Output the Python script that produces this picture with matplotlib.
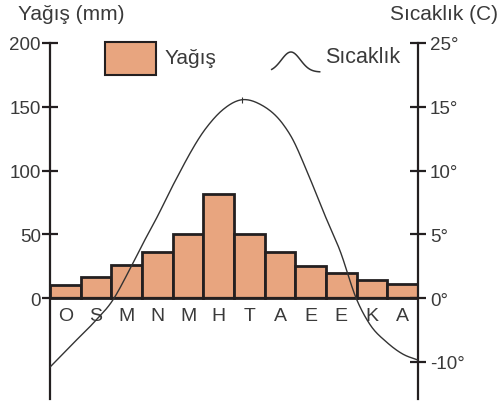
import numpy as np
import matplotlib
matplotlib.use('Agg')
import matplotlib.pyplot as plt
from matplotlib.patches import Rectangle
from matplotlib.lines import Line2D

plt.rcParams['font.family'] = ['Liberation Sans', 'DejaVu Sans']

months = ['O', 'S', 'M', 'N', 'M', 'H', 'T', 'A', 'E', 'E', 'K', 'A']
rain = [10, 17, 26, 36, 50, 82, 50, 36, 25, 20, 14, 11]

# temperature (x in month widths from the left axis)
temp_x = [0, 0.73, 1.47, 2.02, 2.61, 3.10, 3.48, 4.02, 5.11, 5.65, 6.25,
          6.85, 7.61, 7.88, 8.37, 8.91, 9.46, 10.0, 10.43, 10.98, 11.52, 12.0]
temp = [-10.8, -7.2, -3.6, -0.5, 2.3, 4.6, 6.3, 8.9, 13.4, 14.8, 16.1,
        15.4, 13.6, 12.6, 10.0, 6.8, 3.7, -0.2, -4.1, -6.9, -8.8, -9.7]
peak_i = 10

rain_ticks = [0, 50, 100, 150, 200]
temp_ticks = [-10, 0, 5, 10, 15, 25]
temp_labels = ['-10°', '0°', '5°', '10°', '15°', '25°']

ink = '#231f20'
txt = '#3a3a3a'
bar_col = '#e8a57f'


# the printed temperature scale is uneven, so map it piecewise
def fwd(t):
    t = np.asarray(t, dtype=float)
    return np.where(t < 0, t / 2, np.where(t > 15, 15 + (t - 15) / 2, t))


def inv(y):
    y = np.asarray(y, dtype=float)
    return np.where(y < 0, 2 * y, np.where(y > 15, 15 + 2 * (y - 15), y))


def smooth(xs, ys, n=20):
    # catmull-rom style hermite curve through the read points, for drawing only
    xs = np.asarray(xs, float)
    ys = np.asarray(ys, float)
    m = np.gradient(ys, xs)
    ox, oy = [], []
    for i in range(len(xs) - 1):
        h = xs[i + 1] - xs[i]
        s = np.linspace(0, 1, n, endpoint=False)
        h00 = 2 * s**3 - 3 * s**2 + 1
        h10 = s**3 - 2 * s**2 + s
        h01 = -2 * s**3 + 3 * s**2
        h11 = s**3 - s**2
        ox.extend(xs[i] + s * h)
        oy.extend(h00 * ys[i] + h10 * h * m[i] + h01 * ys[i + 1] + h11 * h * m[i + 1])
    ox.append(xs[-1])
    oy.append(ys[-1])
    return np.array(ox), np.array(oy)


fig = plt.figure(figsize=(5.01, 4.06), dpi=100)
ax = fig.add_axes([50 / 501, 1 - 400 / 406, 368 / 501, 356 / 406])

x = np.arange(len(months)) + 0.5
ax.bar(x, rain, width=1, color=bar_col, edgecolor=ink, linewidth=2.0, zorder=2)
ax.axhline(0, color=ink, lw=1.6, zorder=3)
ax.set_xlim(0, len(months))
ax.set_ylim(-79, 200)

for xi, m in zip(x, months):
    ax.text(xi, -13.5, m, ha='center', va='center', fontsize=14, color=txt)

ax.set_xticks([])
ax.set_yticks(rain_ticks)
ax.tick_params(axis='y', direction='inout', length=11, width=1.6, color=ink,
               labelsize=13.5, labelcolor=txt, pad=1)
for s in ['top', 'bottom', 'right']:
    ax.spines[s].set_visible(False)
ax.spines['left'].set_linewidth(1.6)
ax.spines['left'].set_color(ink)

ax2 = ax.twinx()
ax2.set_yscale('function', functions=(fwd, inv))
ax2.set_ylim(-15.8, 25)
sx, sy = smooth(temp_x, fwd(temp))
ax2.plot(sx, inv(sy), color='#333333', lw=1.0, zorder=4)
ax2.plot([temp_x[peak_i]], [temp[peak_i]], marker='|', ms=5, color='#333333', mew=0.8)
ax2.set_yticks(temp_ticks)
ax2.set_yticklabels(temp_labels)
ax2.yaxis.set_minor_locator(matplotlib.ticker.NullLocator())
ax2.tick_params(axis='y', direction='inout', length=11, width=1.6, color=ink,
                labelsize=13.5, labelcolor=txt, pad=3)
for s in ['top', 'bottom', 'left']:
    ax2.spines[s].set_visible(False)
ax2.spines['right'].set_linewidth(1.6)
ax2.spines['right'].set_color(ink)

# axis titles
fig.text(18 / 501, 1 - 15 / 406, 'Yağış (mm)', ha='left', va='center',
         fontsize=15, color=txt)
fig.text(498 / 501, 1 - 15 / 406, 'Sıcaklık (C)', ha='right', va='center',
         fontsize=15, color=txt)

# legend
fig.add_artist(Rectangle((105 / 501, 1 - 75.7 / 406), 50.7 / 501, 33 / 406,
                         transform=fig.transFigure, facecolor=bar_col,
                         edgecolor=ink, lw=1.5))
fig.text(165 / 501, 1 - 59 / 406, 'Yağış', ha='left', va='center',
         fontsize=15, color=txt)
hx = np.linspace(0, 1, 60)
hy = np.exp(-((hx - 0.4) / 0.28) ** 2)
fig.add_artist(Line2D((271.7 + 48 * hx) / 501, 1 - (73 - 20 * hy) / 406,
                      transform=fig.transFigure, color='#333333', lw=1.1))
fig.text(325 / 501, 1 - 58 / 406, 'Sıcaklık', ha='left', va='center',
         fontsize=15.5, color=txt)

fig.savefig('out.png', dpi=100)
